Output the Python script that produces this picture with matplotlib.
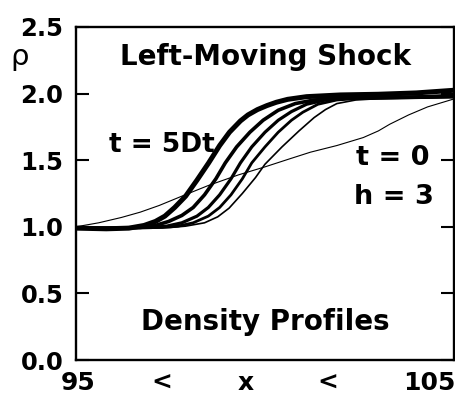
import matplotlib
matplotlib.use("Agg")
import matplotlib.pyplot as plt

# ---- data ----
x_t0 = [95, 95.6, 96.2, 96.7, 97.2, 97.8, 98.5, 99.3, 100.0, 100.65, 101.2, 101.9, 102.6, 103.0, 103.3, 103.8, 104.3, 105]
y_t0 = [1.0, 1.03, 1.07, 1.11, 1.16, 1.23, 1.31, 1.39, 1.45, 1.51, 1.56, 1.61, 1.67, 1.72, 1.77, 1.84, 1.90, 1.96]

x_c5 = [95, 96, 97.5, 97.9, 98.4, 98.75, 99.05, 99.4, 99.75, 100.0, 100.45, 100.9, 101.3, 101.6, 101.9, 102.4, 103.0, 104.0, 105.0]
y_c5 = [0.99, 0.99, 0.995, 1.005, 1.03, 1.075, 1.14, 1.25, 1.37, 1.47, 1.60, 1.72, 1.82, 1.88, 1.925, 1.952, 1.962, 1.965, 1.97]

x_c4 = [95, 96, 97.3, 97.7, 98.1, 98.5, 98.8, 99.1, 99.4, 99.65, 100.0, 100.35, 100.7, 101.0, 101.4, 101.9, 102.4, 103.0, 104.0, 105.0]
y_c4 = [0.99, 0.99, 0.995, 1.005, 1.03, 1.08, 1.145, 1.24, 1.36, 1.48, 1.60, 1.71, 1.80, 1.86, 1.92, 1.952, 1.962, 1.965, 1.97, 1.975]

x_c3 = [95, 96, 97.0, 97.4, 97.8, 98.2, 98.5, 98.8, 99.1, 99.35, 99.65, 100.0, 100.35, 100.7, 101.1, 101.6, 102.2, 103.0, 104.0, 105.0]
y_c3 = [0.99, 0.99, 0.995, 1.005, 1.03, 1.08, 1.145, 1.24, 1.36, 1.48, 1.60, 1.71, 1.80, 1.865, 1.92, 1.952, 1.965, 1.97, 1.975, 1.98]

x_c2 = [95, 96, 96.7, 97.1, 97.45, 97.8, 98.10, 98.4, 98.7, 98.95, 99.25, 99.6, 99.95, 100.35, 100.8, 101.3, 102.0, 103.0, 104.0, 105.0]
y_c2 = [0.99, 0.99, 0.995, 1.01, 1.04, 1.085, 1.145, 1.24, 1.36, 1.48, 1.60, 1.71, 1.80, 1.875, 1.925, 1.952, 1.965, 1.97, 1.975, 1.985]

x_c1 = [95, 95.8, 96.4, 96.8, 97.1, 97.35, 97.61, 97.9, 98.2, 98.51, 98.8, 99.06, 99.35, 99.55, 99.8, 100.05, 100.3, 100.6, 101.1, 102.0, 103.0, 104.0, 105.0]
y_c1 = [0.99, 0.985, 0.99, 1.01, 1.04, 1.08, 1.145, 1.23, 1.35, 1.48, 1.61, 1.71, 1.795, 1.84, 1.88, 1.91, 1.935, 1.957, 1.977, 1.99, 1.995, 2.005, 2.025]

y_ticks = [0.0, 0.5, 1.0, 1.5, 2.0, 2.5]
y_tick_labels = ["0.0", "0.5", "1.0", "1.5", "2.0", "2.5"]
x_label_pos = [95.05, 97.27, 99.49, 101.65, 104.34]
x_label_txt = ["95", "<", "x", "<", "105"]

# ---- figure ----
fig = plt.figure(figsize=(4.56, 4.03), dpi=100)
ax = fig.add_axes([76 / 456, 43 / 403, 378 / 456, 333 / 403])

curves = [(x_t0, y_t0, 0.8), (x_c5, y_c5, 1.2), (x_c4, y_c4, 2.0),
          (x_c3, y_c3, 2.3), (x_c2, y_c2, 2.6), (x_c1, y_c1, 3.6)]
for xs, ys, lw in curves:
    ax.plot(xs, ys, color="black", lw=lw, solid_joinstyle="round",
            solid_capstyle="butt", clip_on=True)

ax.set_xlim(95, 105)
ax.set_ylim(0, 2.5)

for s in ax.spines.values():
    s.set_linewidth(1.7)

ax.set_yticks(y_ticks, y_tick_labels)
ax.tick_params(axis="y", direction="in", length=9.5, width=1.5,
               left=True, right=True, labelsize=17.5, pad=9)
for lab in ax.get_yticklabels():
    lab.set_fontweight("bold")

ax.set_xticks(x_label_pos, x_label_txt)
ax.tick_params(axis="x", length=0, labelsize=18, pad=8)
for lab in ax.get_xticklabels():
    lab.set_fontweight("bold")

ax.text(100.0, 2.215, "Left-Moving Shock", ha="center", va="baseline",
        fontsize=20, fontweight="bold")
ax.text(100.0, 0.225, "Density Profiles", ha="center", va="baseline",
        fontsize=20, fontweight="bold")
ax.text(95.87, 1.564, "t = 5Dt", ha="left", va="baseline",
        fontsize=19, fontweight="bold")
ax.text(104.34, 1.464, "t = 0", ha="right", va="baseline",
        fontsize=19.5, fontweight="bold")
ax.text(104.47, 1.171, "h = 3", ha="right", va="baseline",
        fontsize=19.5, fontweight="bold")
ax.text(93.5, 2.275, "ρ", ha="center", va="center", fontsize=21,
        clip_on=False)

fig.savefig("out.png", dpi=100)
